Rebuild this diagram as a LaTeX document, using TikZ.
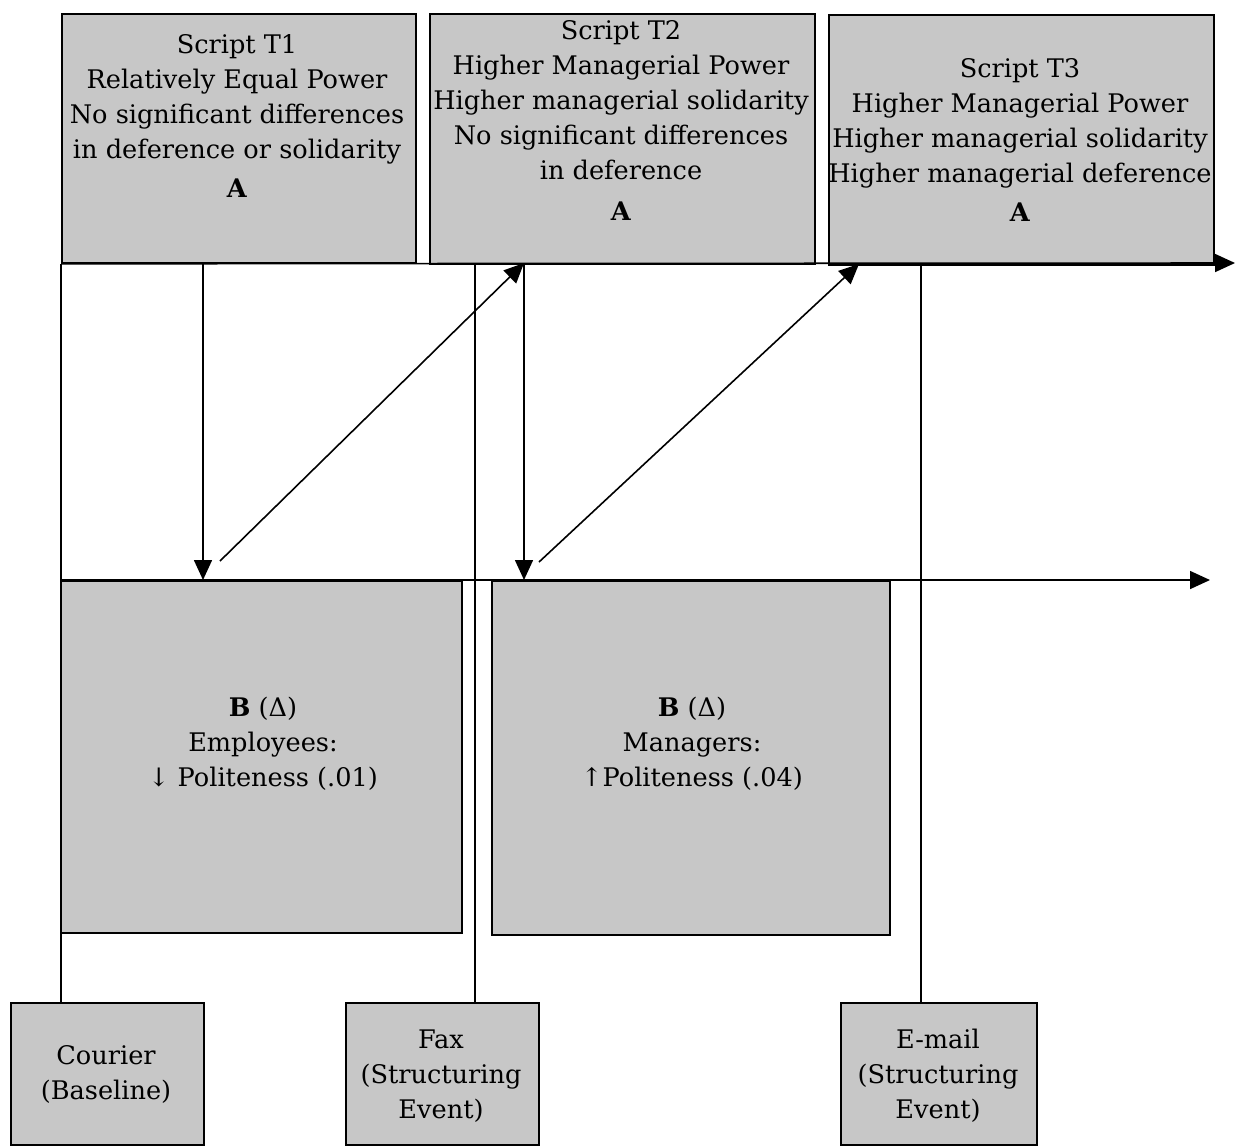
\documentclass[tikz,border=0pt]{standalone}
\usepackage{fontspec}
\setmainfont{DejaVu Serif}
\usetikzlibrary{arrows.meta}
\begin{document}
\begin{tikzpicture}[x=0.5pt,y=-0.5pt,
  box/.style={draw=black, line width=0.9pt, fill=black!22, inner sep=0pt, anchor=north west},
  txt/.style={align=center, inner sep=0pt, font=\fontsize{12.8}{17.5}\selectfont},
  ln/.style={line width=0.8pt},
  arr/.style={ln, -{Triangle[length=10pt,width=9pt]}}]
\useasboundingbox (0,0) rectangle (1235,1146);
% boxes
\node[box, minimum width=177pt, minimum height=124.5pt] (T1) at (61,13) {};
\node[box, minimum width=192.5pt, minimum height=125pt] (T2) at (429,13) {};
\node[box, minimum width=192.5pt, minimum height=125pt] (T3) at (828,14) {};
\node[box, minimum width=200.5pt, minimum height=176pt] (B1) at (60,580) {};
\node[box, minimum width=199pt, minimum height=177pt] (B2) at (491,580) {};
\node[box, minimum width=96.5pt, minimum height=71pt] (Courier) at (10,1002) {};
\node[box, minimum width=96.5pt, minimum height=71pt] (Fax) at (345,1002) {};
\node[box, minimum width=98pt, minimum height=71pt] (Email) at (840,1002) {};
% texts
\node[txt] (t1) at (237,116) {Script T1\\Relatively Equal Power\\No significant differences\\in deference or solidarity\\[2pt]\textbf{A}};
\node[txt] (t2) at (621,120) {Script T2\\Higher Managerial Power\\Higher managerial solidarity\\No significant differences\\in deference\\[3pt]\textbf{A}};
\node[txt] (t3) at (1020,140) {Script T3\\Higher Managerial Power\\Higher managerial solidarity\\Higher managerial deference\\[2pt]\textbf{A}};
\node[txt] (b1) at (263,744) {\textbf{B} (Δ)\\Employees:\\↓ Politeness (.01)};
\node[txt] (b2) at (692,744) {\textbf{B} (Δ)\\Managers:\\↑Politeness (.04)};
\node[txt] (c) at (106,1074) {Courier\\(Baseline)};
\node[txt] (f) at (441,1076) {Fax\\(Structuring\\Event)};
\node[txt] (e) at (938,1076) {E-mail\\(Structuring\\Event)};
% coordinates
\coordinate (topend) at (1235,263);
\coordinate (midend) at (1210,580);
\coordinate (c1) at (203,263);
\coordinate (c2) at (524,263);
\coordinate (fx) at (475,263);
\coordinate (em) at (921,264);
\coordinate (d1) at (220,561);
\coordinate (d2) at (539,562);
\coordinate (d2e) at (859,264);
% connectors
\draw[arr] (T1.south west) -- (topend);
\draw[arr] (B1.north west) -- (midend);
\draw[ln] (T1.south west) -- (T1.south west |- Courier.north);
\draw[ln] (fx) -- (fx |- Fax.north);
\draw[ln] (em) -- (em |- Email.north);
\draw[arr] (c1) -- (c1 |- B1.north);
\draw[arr] (c2) -- (c2 |- B2.north);
\draw[arr] (d1) -- (c2);
\draw[arr] (d2) -- (d2e);
\end{tikzpicture}
\end{document}
